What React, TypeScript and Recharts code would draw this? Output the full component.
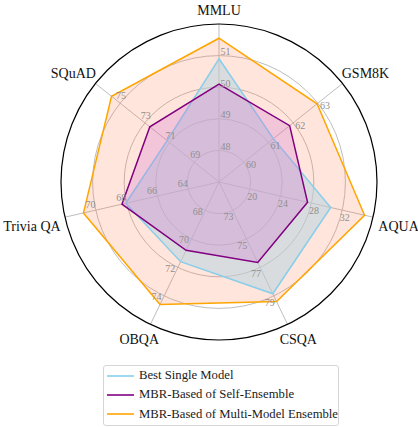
import {
  RadarChart,
  Radar,
  PolarGrid,
  PolarAngleAxis,
  PolarRadiusAxis,
  Legend,
} from "recharts";

const SUBJECTS = ["MMLU", "GSM8K", "AQUA", "CSQA", "OBQA", "Trivia QA", "SQuAD"];

// values printed on each spoke, innermost ring first
const SUBJECT_TICKS = [
  [48, 49, 50, 51],
  [60, 61, 62, 63],
  [20, 24, 28, 32],
  [73, 75, 77, 79],
  [68, 70, 72, 74],
  [64, 66, 68, 70],
  [69, 71, 73, 75],
];

const BEST_SINGLE = [50.9, 61.2, 30.5, 78.85, 71.6, 68.05, 71.2];
const SELF_ENSEMBLE = [50.1, 61.86, 27.5, 76.65, 70.8, 68.3, 72.6];
const MULTI_ENSEMBLE = [51.55, 62.97, 34.9, 79.4, 74.6, 70.8, 75.7];

const RINGS = [1, 2, 3, 4];
const RIM = 5;

const FONT = "'Liberation Serif', 'DejaVu Serif', serif";

// each spoke has its own scale: ring n sits on ticks[n - 1], one tick step per ring
function toRing(value: number, i: number) {
  const t = SUBJECT_TICKS[i];
  return 1 + (value - t[0]) / (t[1] - t[0]);
}

const data = SUBJECTS.map((subject, i) => ({
  subject,
  best: toRing(BEST_SINGLE[i], i),
  self: toRing(SELF_ENSEMBLE[i], i),
  multi: toRing(MULTI_ENSEMBLE[i], i),
}));

const SERIES = [
  { key: "best", name: "Best Single Model", stroke: "#87ceeb", fill: "#b9d5e0", opacity: 0.55 },
  { key: "self", name: "MBR-Based of Self-Ensemble", stroke: "#800080", fill: "#d070d0", opacity: 0.27 },
  { key: "multi", name: "MBR-Based of Multi-Model Ensemble", stroke: "#ffa500", fill: "#ff7f50", opacity: 0.2 },
];
// paint order: widest area at the bottom
const DRAW_ORDER = ["multi", "best", "self"];

// clockwise from 12 o'clock
const spokeTheta = (i: number) => (i * 2 * Math.PI) / SUBJECTS.length;

let ctx: CanvasRenderingContext2D | null = null;
function textWidth(s: string, size: number) {
  if (!ctx) ctx = document.createElement("canvas").getContext("2d");
  if (!ctx) return s.length * size * 0.55;
  ctx.font = `${size}px ${FONT}`;
  return ctx.measureText(s).width;
}

function spokeTick(i: number) {
  const s = Math.sin(spokeTheta(i));
  const c = Math.cos(spokeTheta(i));
  return (props: any) => {
    const { x, y, payload } = props;
    const label = SUBJECT_TICKS[i][Math.round(payload.value) - 1];
    if (label === undefined) return <g />;
    return (
      <text
        x={x + 4 * s + 6.5 * c}
        y={y - 4 * c + 6.5 * s}
        textAnchor="middle"
        dominantBaseline="central"
        fontSize={10}
        fontFamily={FONT}
        fill="#8f8f8f"
      >
        {label}
      </text>
    );
  };
}

// labels sit outside the rim: pushed sideways by part of their width,
// above the anchor on the upper half, below it on the lower half
function SubjectTick(props: any) {
  const { x, y, payload, index } = props;
  const theta = spokeTheta(index);
  const s = Math.sin(theta);
  const c = Math.cos(theta);
  const w = textWidth(payload.value, 14);
  return (
    <text
      x={x + 0.9 * s * (w / 2)}
      y={y + (c > 0.1 ? -5.5 : 8)}
      textAnchor="middle"
      dominantBaseline="central"
      fontSize={14}
      fontFamily={FONT}
      fill="#111"
    >
      {payload.value}
    </text>
  );
}

function LegendBox() {
  return (
    <div
      style={{
        width: 236,
        boxSizing: "border-box",
        border: "1px solid #d6d6d6",
        borderRadius: 3,
        padding: "0 0 1px 3px",
        background: "#fff",
        fontFamily: FONT,
        fontSize: 12.7,
        lineHeight: "19.3px",
        color: "#1a1a1a",
        whiteSpace: "nowrap",
      }}
    >
      {SERIES.map((s) => (
        <div key={s.key} style={{ display: "flex", alignItems: "center" }}>
          <svg width={27} height={4} style={{ marginRight: 5 }}>
            <line x1={0} y1={2} x2={27} y2={2} stroke={s.stroke} strokeWidth={1.6} />
          </svg>
          <span>{s.name}</span>
        </div>
      ))}
    </div>
  );
}

export default function App() {
  return (
    <div style={{ position: "absolute", left: 0, top: 0, fontFamily: FONT }}>
      <RadarChart
        width={418}
        height={427}
        data={data}
        cx={219}
        cy={182}
        outerRadius={158}
        margin={{ top: 0, right: 0, bottom: 0, left: 0 }}
      >
        <PolarGrid gridType="circle" stroke="#bdbdbd" strokeWidth={1} />
        <PolarAngleAxis
          dataKey="subject"
          tick={SubjectTick}
          tickLine={false}
          axisLineType="circle"
          axisLine={{ stroke: "#000", strokeWidth: 1.2 }}
        />
        {SUBJECTS.map((_, i) => (
          <PolarRadiusAxis
            key={i}
            radiusAxisId={i}
            angle={90 - (i * 360) / SUBJECTS.length}
            domain={[0, RIM]}
            allowDataOverflow
            ticks={RINGS}
            tick={spokeTick(i)}
            axisLine={false}
          />
        ))}
        {DRAW_ORDER.map((key) => {
          const s = SERIES.find((d) => d.key === key)!;
          return (
            <Radar
              key={s.key}
              name={s.name}
              dataKey={s.key}
              stroke={s.stroke}
              strokeWidth={1.5}
              fill={s.fill}
              fillOpacity={s.opacity}
              isAnimationActive={false}
            />
          );
        })}
        <Legend
          verticalAlign="top"
          content={() => <LegendBox />}
          wrapperStyle={{ position: "absolute", left: 103, top: 365, width: "auto", height: "auto" }}
        />
      </RadarChart>
    </div>
  );
}
